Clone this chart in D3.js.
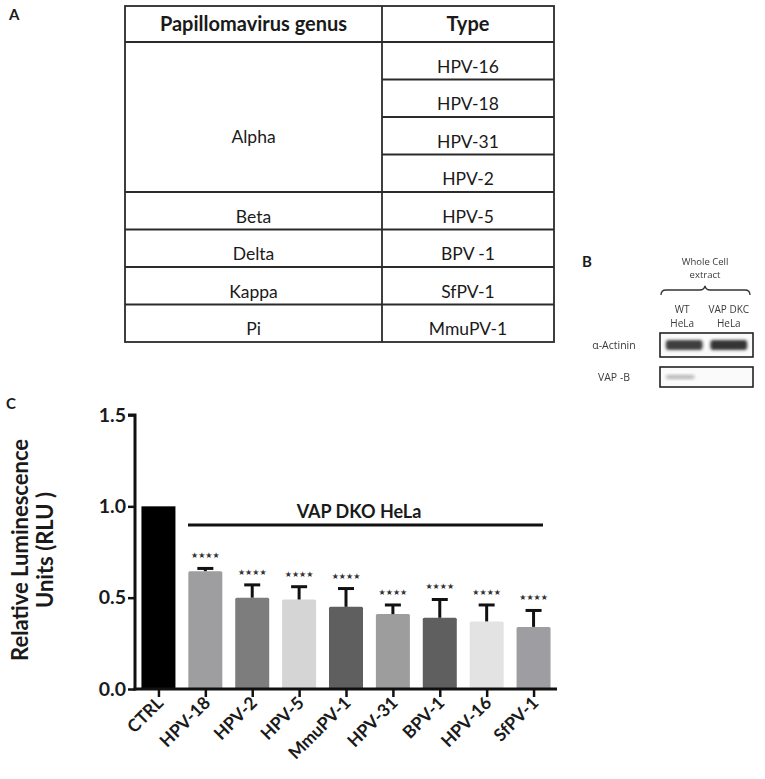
<!DOCTYPE html>
<html>
<head>
<meta charset="utf-8">
<script src="https://cdn.jsdelivr.net/npm/d3@7"></script>
<style>
  body { margin:0; background:#fff; }
  svg { display:block; }
  text { font-family: Lato, "Open Sans", sans-serif; fill:#1a1a1a; }
</style>
</head>
<body>
<div id="fig"></div>
<script>
// ---- panel A : table
var genusHeader = "Papillomavirus genus";
var typeHeader = "Type";
var genera = ["Alpha", "Beta", "Delta", "Kappa", "Pi"];
var genusSpan = [4, 1, 1, 1, 1];
var types = ["HPV-16", "HPV-18", "HPV-31", "HPV-2", "HPV-5", "BPV -1", "SfPV-1", "MmuPV-1"];

// ---- panel B : blot
var blotTitle = ["Whole  Cell", "extract"];
var lanes = [["WT", "HeLa"], ["VAP DKC", "HeLa"]];
var blotRows = ["\u03b1-Actinin", "VAP -B"];
var bandLevel = [[0.88, 0.92], [0.3, 0.0]];

// ---- panel C : bars
var categories = ["CTRL", "HPV-18", "HPV-2", "HPV-5", "MmuPV-1", "HPV-31", "BPV-1", "HPV-16", "SfPV-1"];
var rluMean = [1.0, 0.645, 0.50, 0.49, 0.45, 0.41, 0.39, 0.37, 0.34];
var rluErr  = [0, 0.015, 0.07, 0.07, 0.10, 0.05, 0.10, 0.09, 0.09];
var stars   = ["", "\u2605\u2605\u2605\u2605", "\u2605\u2605\u2605\u2605", "\u2605\u2605\u2605\u2605", "\u2605\u2605\u2605\u2605",
               "\u2605\u2605\u2605\u2605", "\u2605\u2605\u2605\u2605", "\u2605\u2605\u2605\u2605", "\u2605\u2605\u2605\u2605"];
var barColors = ["#000000", "#9e9ea1", "#7d7d7d", "#d5d5d5", "#5f5f5f", "#9d9d9d", "#5f5f5f", "#e3e3e3", "#9e9ea2"];
var yTicks = [0, 0.5, 1.0, 1.5];
var groupLabel = "VAP DKO HeLa";

function figure(){
  var w = 765, h = 779;
  var svg = d3.select("#fig").append("svg").attr("width", w).attr("height", h);

  // panel letters
  var letters = [["A", 9, 20], ["B", 582, 267], ["C", 6, 409]];
  svg.selectAll("text.letter").data(letters).enter().append("text")
    .attr("class", "letter")
    .attr("x", function(d){ return d[1]; })
    .attr("y", function(d){ return d[2]; })
    .style("font-weight", "bold").style("font-size", "15px")
    .text(function(d){ return d[0]; });

  // ============ A : table
  var tx0 = 125, tx1 = 382, tx2 = 554, ty0 = 6, headH = 36, rowH = 37.5;
  var rowY = d3.scaleLinear().domain([0, types.length]).range([ty0 + headH, ty0 + headH + rowH * types.length]);
  var tab = svg.append("g").attr("id", "table");
  var lineStyle = function(sel){ sel.attr("stroke", "#2b2b2b").attr("stroke-width", 1.8); };

  tab.append("rect").attr("x", tx0).attr("y", ty0).attr("width", tx2 - tx0)
    .attr("height", rowY(types.length) - ty0).attr("fill", "none").call(lineStyle);
  tab.append("line").attr("x1", tx1).attr("x2", tx1).attr("y1", ty0).attr("y2", rowY(types.length)).call(lineStyle);
  tab.append("line").attr("x1", tx0).attr("x2", tx2).attr("y1", rowY(0)).attr("y2", rowY(0)).call(lineStyle);

  // type row separators
  tab.selectAll("line.trow").data(d3.range(1, types.length)).enter().append("line")
    .attr("class", "trow").attr("x1", tx1).attr("x2", tx2)
    .attr("y1", function(d){ return rowY(d); }).attr("y2", function(d){ return rowY(d); }).call(lineStyle);

  // genus separators (full width)
  var cum = d3.cumsum(genusSpan);
  tab.selectAll("line.grow").data(cum.slice(0, -1)).enter().append("line")
    .attr("class", "grow").attr("x1", tx0).attr("x2", tx1)
    .attr("y1", function(d){ return rowY(d); }).attr("y2", function(d){ return rowY(d); }).call(lineStyle);

  tab.append("text").attr("x", (tx0 + tx1) / 2).attr("y", ty0 + headH / 2 + 7)
    .attr("text-anchor", "middle").style("font-weight", "bold").style("font-size", "20px").text(genusHeader);
  tab.append("text").attr("x", (tx1 + tx2) / 2).attr("y", ty0 + headH / 2 + 7)
    .attr("text-anchor", "middle").style("font-weight", "bold").style("font-size", "20px").text(typeHeader);

  tab.selectAll("text.type").data(types).enter().append("text")
    .attr("class", "type").attr("x", (tx1 + tx2) / 2)
    .attr("y", function(d, i){ return rowY(i) + rowH / 2 + 12; })
    .attr("text-anchor", "middle").style("font-size", "17.5px").text(function(d){ return d; });

  tab.selectAll("text.genus").data(genera).enter().append("text")
    .attr("class", "genus").attr("x", (tx0 + tx1) / 2)
    .attr("y", function(d, i){
      var a = cum[i] - genusSpan[i];
      return (rowY(a) + rowY(cum[i])) / 2 + (genusSpan[i] > 1 ? 26 : 12);
    })
    .attr("text-anchor", "middle").style("font-size", "17.5px").text(function(d){ return d; });

  // ============ B : blot
  var blot = svg.append("g").attr("id", "blot");
  var defs = svg.append("defs");
  defs.append("filter").attr("id", "blur").attr("x", "-20%").attr("y", "-50%").attr("width", "140%").attr("height", "200%")
    .append("feGaussianBlur").attr("stdDeviation", 1.6);
  defs.append("filter").attr("id", "soft").append("feGaussianBlur").attr("stdDeviation", 0.45);

  var laneX = d3.scaleBand().domain(d3.range(lanes.length)).range([661, 752]).padding(0.04);
  var boxY = [333, 367], boxH = [24, 20];
  var small = function(sel, fs){ sel.style("font-family", "'Open Sans', sans-serif").style("font-size", (fs || 9.5) + "px").style("fill", "#3a3a3a").attr("filter", "url(#soft)"); };

  blot.selectAll("text.bt").data(blotTitle).enter().append("text")
    .attr("x", 705).attr("y", function(d, i){ return 265 + i * 13; })
    .attr("text-anchor", "middle").call(small, 9.5).text(function(d){ return d; });

  blot.append("path")
    .attr("d", "M661,295 Q661,290 666,290 L700,290 Q704,290 705,286 Q706,290 710,290 L745,290 Q750,290 750,295")
    .attr("fill", "none").attr("stroke", "#333").attr("stroke-width", 1.3);

  lanes.forEach(function(l, i){
    blot.selectAll(null).data(l).enter().append("text")
      .attr("x", laneX(i) + laneX.bandwidth() / 2 + (i === 0 ? -2 : 0))
      .attr("y", function(d, j){ return 313 + j * 14; })
      .attr("text-anchor", "middle").call(small, 10).text(function(d){ return d; });
  });

  blotRows.forEach(function(r, k){
    blot.append("text").attr("x", 614).attr("y", boxY[k] + boxH[k] / 2 + 4)
      .attr("text-anchor", "middle").call(small, 10.5).text(r);
    blot.append("rect").attr("x", 660).attr("y", boxY[k]).attr("width", 93).attr("height", boxH[k])
      .attr("fill", "#fafafa").attr("stroke", "#222").attr("stroke-width", 1.6);
    blot.selectAll(null).data(bandLevel[k]).enter().append("rect")
      .attr("x", function(d, i){ return laneX(i) + 3; })
      .attr("width", function(d, i){ return laneX.bandwidth() - (k === 1 ? 14 : 6); })
      .attr("y", boxY[k] + boxH[k] / 2 - (k === 0 ? 5 : 2))
      .attr("height", k === 0 ? 10 : 4)
      .attr("rx", 3)
      .attr("fill", "#222").attr("fill-opacity", function(d){ return d; })
      .attr("filter", "url(#blur)");
  });

  // ============ C : bar chart
  var margin = {left: 135, top: 415, right: 557, bottom: 689};
  var xt = d3.scalePoint().domain(categories).range([margin.left, margin.right]).padding(0.5);
  var y = d3.scaleLinear().domain([0, 1.5]).range([margin.bottom, margin.top]);
  var chart = svg.append("g").attr("id", "chart");

  chart.selectAll("rect.bar").data(categories).enter().append("rect")
    .attr("class", "bar")
    .attr("x", function(d){ return xt(d) - 17; })
    .attr("width", 34)
    .attr("y", function(d, i){ return y(rluMean[i]); })
    .attr("height", function(d, i){ return y(0) - y(rluMean[i]); })
    .attr("rx", function(d, i){ return i === 0 ? 0 : 1.5; })
    .attr("fill", function(d, i){ return barColors[i]; });

  // error bars (upper only)
  var eb = chart.selectAll("g.err").data(categories.slice(1)).enter().append("g").attr("class", "err");
  eb.append("line")
    .attr("x1", function(d){ return xt(d); }).attr("x2", function(d){ return xt(d); })
    .attr("y1", function(d){ var i = categories.indexOf(d); return y(rluMean[i]); })
    .attr("y2", function(d){ var i = categories.indexOf(d); return y(rluMean[i] + rluErr[i]); })
    .attr("stroke", "#111").attr("stroke-width", 3);
  eb.append("line")
    .attr("x1", function(d){ return xt(d) - 8; }).attr("x2", function(d){ return xt(d) + 8; })
    .attr("y1", function(d){ var i = categories.indexOf(d); return y(rluMean[i] + rluErr[i]); })
    .attr("y2", function(d){ var i = categories.indexOf(d); return y(rluMean[i] + rluErr[i]); })
    .attr("stroke", "#111").attr("stroke-width", 3);

  chart.selectAll("text.star").data(categories).enter().append("text")
    .attr("class", "star").attr("x", function(d){ return xt(d); })
    .attr("y", function(d, i){ return y(rluMean[i] + rluErr[i]) - 10; })
    .attr("text-anchor", "middle")
    .style("font-family", "'DejaVu Sans', sans-serif").style("font-size", "8px").style("fill", "#333")
    .text(function(d, i){ return stars[i]; });

  // group line
  chart.append("line").attr("x1", 188).attr("x2", 543).attr("y1", 525).attr("y2", 525)
    .attr("stroke", "#111").attr("stroke-width", 3);
  chart.append("text").attr("x", 359).attr("y", 518).attr("text-anchor", "middle")
    .style("font-weight", "bold").style("font-size", "18px").text(groupLabel);

  // y axis
  var yAxis = d3.axisLeft(y).tickValues(yTicks).tickFormat(d3.format(".1f")).tickSize(7).tickPadding(2);
  var gy = chart.append("g").attr("transform", "translate(" + margin.left + ",0)").call(yAxis);
  gy.select(".domain").attr("stroke", "#111").attr("stroke-width", 3).attr("d", "M-7," + y(1.5) + "H0V" + (y(0) + 1.5));
  gy.selectAll(".tick line").attr("stroke", "#111").attr("stroke-width", 2.5);
  gy.selectAll(".tick text").style("font-family", "Lato, sans-serif").style("font-weight", "bold")
    .style("font-size", "19.5px").attr("fill", "#1a1a1a");

  // x axis
  var xAxis = d3.axisBottom(xt).tickSize(8).tickFormat("");
  var gx = chart.append("g").attr("transform", "translate(0," + margin.bottom + ")").call(xAxis);
  gx.select(".domain").attr("stroke", "#111").attr("stroke-width", 3).attr("d", "M" + (margin.left - 1.5) + ",0H" + margin.right);
  gx.selectAll(".tick line").attr("stroke", "#111").attr("stroke-width", 2.5);

  chart.selectAll("text.xl").data(categories).enter().append("text")
    .attr("class", "xl")
    .attr("transform", function(d){ return "translate(" + (xt(d) + 6) + "," + (margin.bottom + 15) + ") rotate(-45)"; })
    .attr("text-anchor", "end")
    .style("font-weight", "bold").style("font-size", "17.5px")
    .text(function(d){ return d; });

  // y title
  var ytitle = ["Relative Luminescence", "Units (RLU )"];
  chart.selectAll("text.yt").data(ytitle).enter().append("text")
    .attr("class", "yt")
    .attr("transform", function(d, i){ return "translate(" + (28 + i * 25) + ",550) rotate(-90)"; })
    .attr("text-anchor", "middle")
    .style("font-weight", "bold").style("font-size", "22px")
    .text(function(d){ return d; });
}

figure();
</script>
</body>
</html>
